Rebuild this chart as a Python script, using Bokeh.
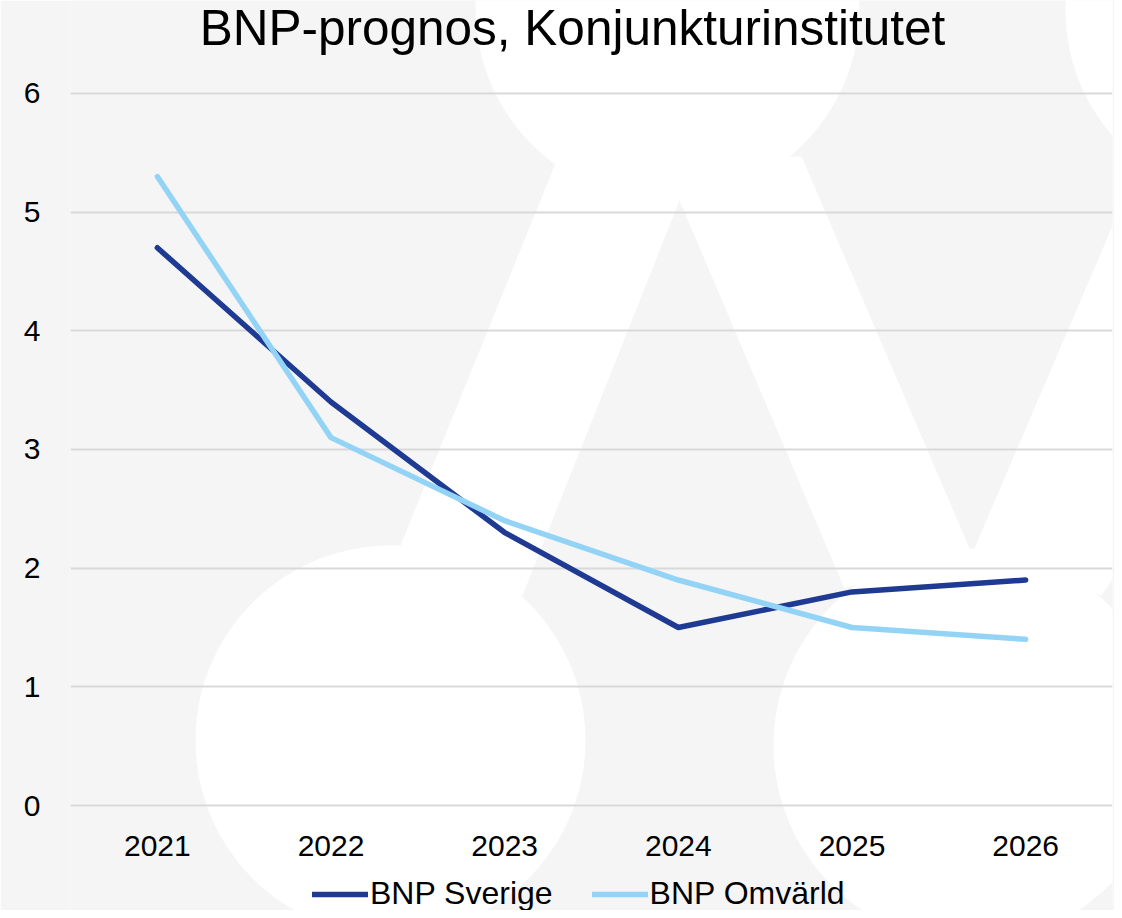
import numpy as np
from bokeh.plotting import figure
from bokeh.models import Legend, LegendItem, Range1d, FixedTicker, Label, PolyAnnotation, Grid
from bokeh.core.properties import value
from bokeh.embed import file_html
from bokeh.resources import INLINE

years = ["2021", "2022", "2023", "2024", "2025", "2026"]
bnp_sverige = [4.7, 3.4, 2.3, 1.5, 1.8, 1.9]
bnp_omvarld = [5.3, 3.1, 2.4, 1.9, 1.5, 1.4]
y_ticks = [0, 1, 2, 3, 4, 5, 6]
title_text = "BNP-prognos, Konjunkturinstitutet"

FONT = "Liberation Sans"
BG = "#f5f5f5"
LEFT, RIGHT, TOP, BOTTOM = 70, 2, 0, 0
FW, FH = 1042, 910       # frame size (canvas px)
FB = TOP + FH            # frame bottom (canvas px)
PX_PER_UNIT = 118.67     # vertical scale of the reference
Y0_PX = 805              # canvas px of value 0 in the reference

y_start = -(FB - Y0_PX) / PX_PER_UNIT
y_end = y_start + FH / PX_PER_UNIT

p = figure(x_range=years, y_range=Range1d(y_start, y_end),
           frame_width=FW, frame_height=FH, x_axis_location=None,
           output_backend="svg", toolbar_location=None,
           min_border_left=LEFT, min_border_right=RIGHT, min_border_top=TOP,
           min_border_bottom=BOTTOM)
p.x_range.range_padding = 0
p.background_fill_color = BG
p.border_fill_color = BG
p.outline_line_color = None

# --- decorative watermark (white logo shapes on the grey background) ---


def to_screen(px, py):
    return [x - LEFT for x in px], [FB - y for y in py]


def circle_pts(cx, cy, r, n=120):
    t = np.linspace(0, 2 * np.pi, n, endpoint=False)
    return list(cx + r * np.cos(t)), list(cy + r * np.sin(t))


shapes = [
    circle_pts(667, 8, 192),
    circle_pts(1255, 10, 190),
    circle_pts(390, 740, 195),
    circle_pts(970, 745, 197),
    ([555, 400, 522, 679, 844, 969, 801], [163, 545, 595, 200, 588, 548, 156]),
    ([974, 1125, 1125, 1101], [548, 195, 560, 595]),
]
for sx, sy in shapes:
    xs, ys = to_screen(sx, sy)
    p.add_layout(PolyAnnotation(xs=xs, ys=ys, xs_units="screen", ys_units="screen",
                                fill_color="#ffffff", fill_alpha=1.0, line_color=None,
                                level="image"))

# --- data lines ---
r1 = p.line(years, bnp_sverige, line_color="#1f3a93", line_width=5.5, line_cap="round")
r2 = p.line(years, bnp_omvarld, line_color="#93d4f6", line_width=5.5, line_cap="round")

# --- axes / grid ---
for r in p.renderers + p.center:
    if isinstance(r, Grid) and r.dimension == 0:
        r.grid_line_color = None
        r.visible = False
p.ygrid.grid_line_color = "#d9d9d9"
p.ygrid.grid_line_width = 2
p.yaxis.ticker = FixedTicker(ticks=y_ticks)
ax = p.yaxis[0]
ax.axis_line_color = None
ax.major_tick_line_color = None
ax.minor_tick_line_color = None
ax.major_tick_out = 0
ax.major_tick_in = 0
ax.minor_tick_out = 0
ax.minor_tick_in = 0
ax.major_label_text_font = FONT
ax.major_label_text_font_size = "30px"
ax.major_label_text_color = "#000000"
ax.major_label_standoff = 30

# category labels under the value-0 line, placed through the plot's scales
p.text(x=years, y=[0] * len(years), text=years, y_offset=40,
       text_align="center", text_baseline="middle",
       text_font=value(FONT), text_font_size="30px", text_color="#000000")

p.add_layout(Label(x=502, y=FB - 27, x_units="screen", y_units="screen", text=title_text,
                   text_align="center", text_baseline="alphabetic",
                   text_font=FONT, text_font_size="49.5px", text_color="#000000"))

legend = Legend(items=[LegendItem(label="BNP Sverige", renderers=[r1]),
                       LegendItem(label="BNP Omvärld", renderers=[r2])],
                orientation="horizontal", location=(242, -2),
                glyph_width=56, glyph_height=20, label_standoff=2, spacing=39,
                padding=0, margin=0, border_line_alpha=0, background_fill_alpha=0,
                label_text_font=FONT, label_text_font_size="32px", label_text_color="#000000")
p.add_layout(legend, "center")

open("out.html", "w").write(file_html(p, INLINE))
